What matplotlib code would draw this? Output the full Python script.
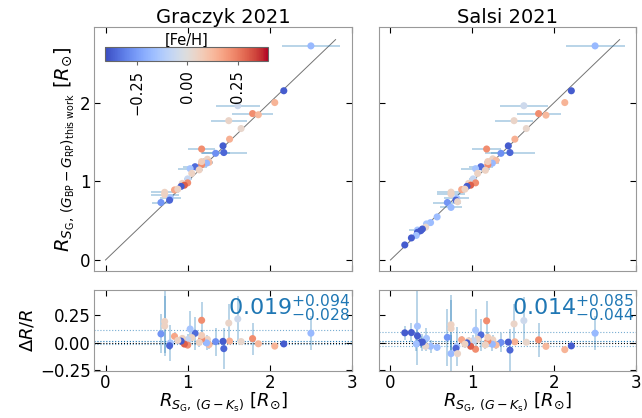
import numpy as np
import matplotlib
matplotlib.use("Agg")
import matplotlib.pyplot as plt
from matplotlib import cm, colors

# ---- Graczyk 2021 sample: literature radius, our radius, x-error, [Fe/H]
g_x = [2.50, 2.17, 2.06, 1.61, 1.79, 1.86, 1.50, 1.65, 1.51, 1.17, 1.43, 1.44,
       1.34, 1.24, 1.26, 1.23, 1.17, 1.17, 1.09, 1.03, 1.14, 1.05, 1.00, 1.00,
       0.935, 0.96, 0.92, 0.84, 0.88, 0.72, 0.72, 0.79, 0.78, 0.675]
g_y = [2.72, 2.15, 2.00, 1.96, 1.86, 1.845, 1.77, 1.67, 1.535, 1.41, 1.45, 1.365,
       1.355, 1.28, 1.24, 1.23, 1.21, 1.25, 1.185, 1.16, 1.145, 1.10, 1.03, 0.98,
       0.973, 0.95, 0.935, 0.89, 0.90, 0.86, 0.83, 0.79, 0.76, 0.73]
g_xerr = [0.35, 0.02, 0.02, 0.27, 0.25, 0.03, 0.22, 0.02, 0.02, 0.16, 0.02, 0.28,
          0.17, 0.05, 0.05, 0.08, 0.04, 0.05, 0.15, 0.15, 0.05, 0.03, 0.05, 0.03,
          0.03, 0.02, 0.02, 0.03, 0.03, 0.17, 0.17, 0.13, 0.03, 0.11]
g_feh = [-0.18, -0.38, 0.14, -0.05, 0.22, 0.13, 0.04, 0.03, 0.15, 0.22, -0.38, -0.36,
         -0.28, 0.05, 0.12, -0.18, 0.22, 0.07, -0.35, -0.15, 0.05, 0.05, -0.07, 0.22,
         0.05, 0.30, -0.38, 0.17, 0.05, 0.05, 0.05, -0.15, -0.36, -0.27]

# ---- Salsi 2021 sample
s_x = [2.50, 2.21, 2.13, 1.63, 1.81, 1.90, 1.51, 1.66, 1.52, 1.175, 1.44, 1.46,
       1.35, 1.25, 1.29, 1.245, 1.19, 1.19, 1.105, 1.04, 1.16, 1.065, 1.01, 1.04,
       0.955, 0.98, 0.935, 0.87, 0.91, 0.74, 0.74, 0.81, 0.80, 0.695, 0.74, 0.82,
       0.57, 0.49, 0.44, 0.43, 0.39, 0.33, 0.33, 0.37, 0.315, 0.256, 0.175]
s_y = [2.72, 2.15, 2.00, 1.96, 1.86, 1.84, 1.77, 1.67, 1.535, 1.41, 1.45, 1.365,
       1.355, 1.285, 1.265, 1.23, 1.21, 1.25, 1.185, 1.16, 1.14, 1.10, 1.03, 0.98,
       0.973, 0.95, 0.935, 0.895, 0.90, 0.862, 0.836, 0.785, 0.76, 0.73, 0.668, 0.74,
       0.547, 0.475, 0.458, 0.417, 0.393, 0.38, 0.351, 0.372, 0.312, 0.28, 0.191]
s_xerr = [0.36, 0.02, 0.02, 0.29, 0.27, 0.03, 0.23, 0.02, 0.02, 0.18, 0.02, 0.30,
          0.12, 0.05, 0.05, 0.08, 0.04, 0.05, 0.15, 0.18, 0.05, 0.03, 0.05, 0.03,
          0.03, 0.02, 0.02, 0.03, 0.03, 0.17, 0.17, 0.15, 0.03, 0.17, 0.14, 0.02,
          0.02, 0.03, 0.04, 0.02, 0.03, 0.10, 0.02, 0.02, 0.02, 0.02, 0.01]
s_feh = [-0.18, -0.38, 0.14, -0.05, 0.22, 0.13, 0.04, 0.03, 0.15, 0.22, -0.38, -0.36,
         -0.28, 0.05, 0.12, -0.18, 0.22, 0.07, -0.35, -0.15, 0.05, 0.05, -0.07, 0.22,
         0.05, 0.30, -0.38, 0.17, 0.05, 0.05, 0.05, -0.15, -0.36, -0.27, -0.18, 0.04,
         -0.17, -0.17, -0.15, 0.03, -0.38, -0.15, -0.38, -0.38, -0.16, -0.38, -0.38]

# median and 16/84 percentile offsets of the relative difference
g_stats = (0.019, 0.094, 0.028)
s_stats = (0.014, 0.085, 0.044)

titles = ["Graczyk 2021", "Salsi 2021"]
fe_range = (-0.41, 0.40)

W, H = 642, 418
fig = plt.figure(figsize=(W / 100, H / 100), dpi=100)


def frac(l, t, r, b):
    return [l / W, 1 - b / H, (r - l) / W, (b - t) / H]


ax_top = [fig.add_axes(frac(94, 27, 352, 271)), fig.add_axes(frac(379, 27, 636, 271))]
ax_bot = [fig.add_axes(frac(94, 290, 352, 371)), fig.add_axes(frac(379, 290, 636, 371))]

cmap = cm.coolwarm
norm = colors.Normalize(*fe_range)
ebar_col = "#1f77b4"

datasets = [(g_x, g_y, g_xerr, g_feh, g_stats), (s_x, s_y, s_xerr, s_feh, s_stats)]

for i, (x, y, xerr, feh, stats) in enumerate(datasets):
    x = np.asarray(x); y = np.asarray(y); xerr = np.asarray(xerr); feh = np.asarray(feh)
    dr = y / x - 1.0
    drerr = xerr * y / x ** 2
    at, ab = ax_top[i], ax_bot[i]

    # one-to-one relation
    at.plot([0, 2.8], [0, 2.8], color="0.45", lw=0.7, zorder=1)
    at.errorbar(x, y, xerr=xerr, fmt="none", ecolor=ebar_col, alpha=0.4, lw=1.1, zorder=2)
    sc = at.scatter(x, y, c=feh, cmap=cmap, norm=norm, s=26, edgecolors="none", zorder=3)

    med, up, lo = stats
    ab.axhline(0, color="k", lw=0.8, ls=":", zorder=1)
    ab.axhline(med, color=ebar_col, lw=0.8, ls=":", zorder=1)
    ab.axhline(med + up, color=ebar_col, lw=0.8, ls=":", alpha=0.6, zorder=1)
    ab.axhline(med - lo, color=ebar_col, lw=0.8, ls=":", alpha=0.6, zorder=1)
    ab.errorbar(x, dr, yerr=drerr, fmt="none", ecolor=ebar_col, alpha=0.4, lw=1.1, zorder=2)
    ab.scatter(x, dr, c=feh, cmap=cmap, norm=norm, s=26, edgecolors="none", zorder=3)
    ab.text(0.995, 0.97, r"$%.3f^{+%.3f}_{-%.3f}$" % (med, up, lo),
            transform=ab.transAxes, ha="right", va="top", fontsize=16, color=ebar_col)

    at.set_title(titles[i], fontsize=14, pad=3)
    at.set_xlim(-0.14, 3.0)
    at.set_ylim(-0.14, 2.96)
    ab.set_xlim(-0.14, 3.0)
    ab.set_ylim(-0.255, 0.48)
    at.set_xticks([0, 1, 2, 3])
    at.set_yticks([0, 1, 2])
    ab.set_xticks([0, 1, 2, 3])
    ab.set_yticks([-0.25, 0.0, 0.25])
    for a in (at, ab):
        a.tick_params(direction="in", top=True, right=True, labelsize=12, length=4,
                      width=0.8, pad=2.5)
        for sp in a.spines.values():
            sp.set_color("0.6")
    at.tick_params(labelbottom=False)
    ab.set_xlabel(r"$R_{S_{\rm G},\,(G-K_{\rm s})}$ [$R_{\odot}$]", fontsize=13, labelpad=-1)
    if i == 1:
        at.tick_params(labelleft=False)
        ab.tick_params(labelleft=False)
    else:
        at.set_ylabel(r"$R_{S_{\rm G},\,(G_{\rm BP}-G_{\rm RP})_{\rm this\ work}}$ [$R_{\odot}$]",
                      fontsize=14, labelpad=2)
        ab.set_ylabel(r"$\Delta R/R$", fontsize=13, labelpad=2)
        ab.set_yticklabels(["\u22120.25", "0.00", "0.25"])

        cax = at.inset_axes([0.043, 0.86, 0.63, 0.057])
        cb = fig.colorbar(sc, cax=cax, orientation="horizontal")
        cb.set_ticks([-0.25, 0.0, 0.25])
        cb.ax.tick_params(labelsize=10.5, labelrotation=90, direction="out", length=3, color="0.4")
        cb.outline.set_edgecolor("0.4")
        cb.set_label("[Fe/H]", fontsize=10.5, labelpad=2)
        cb.ax.xaxis.set_label_position("top")

fig.savefig("out.png", dpi=100)
